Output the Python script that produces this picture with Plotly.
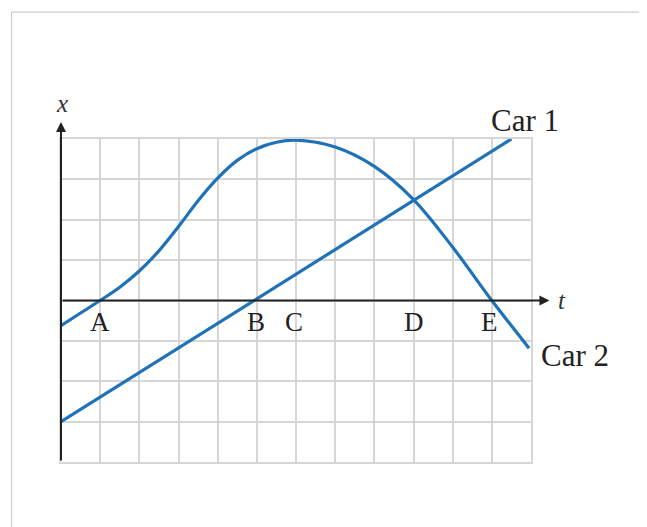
import plotly.graph_objects as go

# ---- data (t in grid units, x in grid units) ----
car1_t = [0, 11.5]
car1_x = [-3.0, 4.0]

car2_t = [0, 0.5, 1, 1.5, 2, 2.5, 3, 3.5, 4, 4.5, 5, 5.5, 6, 7, 8, 9, 10, 11, 11.95]
car2_x = [-0.62, -0.31, 0, 0.33, 0.73, 1.23, 1.83, 2.47, 3.03, 3.47, 3.76, 3.92, 3.97,
          3.8, 3.32, 2.5, 1.32, 0, -1.18]

point_labels = ["A", "B", "C", "D", "E"]
point_t = [1, 4.98, 5.95, 9, 10.95]

T_MAX, X_MIN, X_MAX = 12, -4, 4

BLUE = "#1f72b8"
GRID = "#d6d6d6"
INK = "#222222"
FONT = "Liberation Serif, Times New Roman, serif"


def to_paper(t, x):
    # labels that sit outside the axis range go in paper coordinates
    return t / T_MAX, (x - X_MIN) / (X_MAX - X_MIN)


def side_label(t, x, text, size, color=INK, xanchor="center"):
    px_, py_ = to_paper(t, x)
    fig.add_annotation(x=px_, y=py_, xref="paper", yref="paper", text=text,
                       showarrow=False, xanchor=xanchor, yanchor="middle",
                       font=dict(family=FONT, size=size, color=color))


fig = go.Figure()

fig.add_trace(go.Scatter(x=car1_t, y=car1_x, mode="lines",
                         line=dict(color=BLUE, width=3.2), showlegend=False,
                         hoverinfo="skip"))
fig.add_trace(go.Scatter(x=car2_t, y=car2_x, mode="lines",
                         line=dict(color=BLUE, width=3.2, shape="spline", smoothing=1.0),
                         showlegend=False, hoverinfo="skip"))

# axes with arrows
fig.add_annotation(x=12.47, y=0, ax=0, ay=0, xref="x", yref="y", axref="x", ayref="y",
                   showarrow=True, arrowhead=2, arrowsize=1.0, arrowwidth=2,
                   arrowcolor=INK, text="")
fig.add_annotation(x=0, y=4.42, ax=0, ay=-4, xref="x", yref="y", axref="x", ayref="y",
                   showarrow=True, arrowhead=2, arrowsize=1.0, arrowwidth=2,
                   arrowcolor=INK, text="")

side_label(0.02, 4.88, "<i>x</i>", 25, color="#333")
side_label(12.78, 0.0, "<i>t</i>", 25, color="#333")

for lab, tt in zip(point_labels, point_t):
    fig.add_annotation(x=tt, y=-0.53, text=lab, showarrow=False,
                       font=dict(family=FONT, size=27, color=INK))

side_label(10.92, 4.45, "Car 1", 31, xanchor="left")
side_label(12.2, -1.35, "Car 2", 31, xanchor="left")

# light frame around the figure
fig.add_shape(type="rect", xref="paper", yref="paper",
              x0=-0.1053, x1=1.35, y0=-0.30, y1=1.3927,
              line=dict(color="#c8d0dc", width=1.2), layer="below")

fig.update_xaxes(range=[0, T_MAX], dtick=1, showgrid=True, gridcolor=GRID, gridwidth=1.5,
                 showticklabels=False, zeroline=False, ticks="",
                 showline=True, mirror=True, linecolor=GRID, linewidth=1.5)
fig.update_yaxes(range=[X_MIN, X_MAX], dtick=1, showgrid=True, gridcolor=GRID, gridwidth=1.5,
                 showticklabels=False, zeroline=False, ticks="",
                 showline=True, mirror=True, linecolor=GRID, linewidth=1.5)

# the page body adds 8px, so margins are 8px smaller on the left/top
fig.update_layout(width=647, height=527,
                  margin=dict(l=53, r=124, t=131, b=73),
                  plot_bgcolor="white", paper_bgcolor="white")

fig.write_html("out.html")
